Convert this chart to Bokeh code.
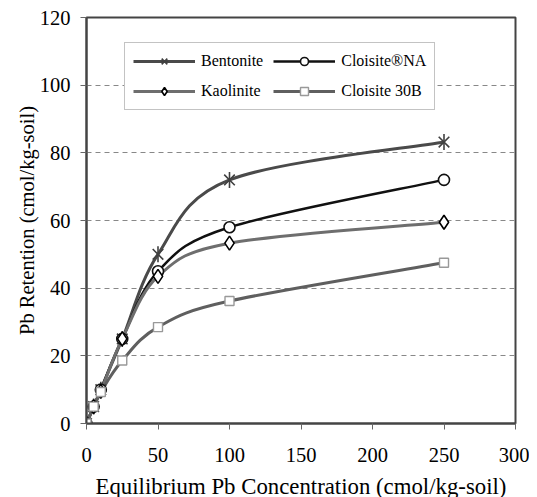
from bokeh.plotting import figure
from bokeh.models import (Range1d, FixedTicker, ColumnDataSource, Legend, LegendItem)
from bokeh.embed import file_html
from bokeh.resources import INLINE
import math

# ---- data ----
conc = [0, 5, 10, 25, 50, 100, 250]
bentonite = [0, 5, 10, 25, 50, 72, 83.2]
cloisite_na = [0, 5, 10, 25, 45, 58, 72]
kaolinite = [0, 5, 9.5, 25, 43.5, 53.3, 59.5]
cloisite_30b = [0, 5, 9.3, 18.6, 28.5, 36.2, 47.5]
x_ticks = [0, 50, 100, 150, 200, 250, 300]
y_ticks = [0, 20, 40, 60, 80, 100, 120]

FONT = "Liberation Serif"


def smooth_segments(xs, ys):
    """Bezier segments (Excel-style smoothed line) through the data points."""
    n = len(xs)
    d = dict(x0=[], y0=[], x1=[], y1=[], cx0=[], cy0=[], cx1=[], cy1=[])
    for i in range(n - 1):
        a = i - 1 if i > 0 else i
        b = i + 2 if i + 2 < n else i + 1
        d["x0"].append(xs[i]); d["y0"].append(ys[i])
        d["x1"].append(xs[i + 1]); d["y1"].append(ys[i + 1])
        d["cx0"].append(xs[i] + (xs[i + 1] - xs[a]) / 6)
        d["cy0"].append(ys[i] + (ys[i + 1] - ys[a]) / 6)
        d["cx1"].append(xs[i + 1] - (xs[b] - xs[i]) / 6)
        d["cy1"].append(ys[i + 1] - (ys[b] - ys[i]) / 6)
    return ColumnDataSource(d)


p = figure(frame_width=429, frame_height=406,
           x_range=Range1d(0, 300), y_range=Range1d(0, 120),
           output_backend="svg", toolbar_location=None,
           min_border_left=86, min_border_top=17, min_border_right=14,
           min_border_bottom=10)

p.background_fill_color = "white"
p.border_fill_color = "white"
p.outline_line_color = "#444444"
p.outline_line_width = 2

# axes
p.xaxis.ticker = FixedTicker(ticks=x_ticks)
p.yaxis.ticker = FixedTicker(ticks=y_ticks)
for ax in (p.xaxis[0], p.yaxis[0]):
    ax.axis_line_color = "#444444"
    ax.axis_line_width = 2
    ax.major_label_text_font = FONT
    ax.major_label_text_font_size = "20.5px"
    ax.major_label_text_color = "black"
    ax.axis_label_text_font = FONT
    ax.axis_label_text_font_style = "normal"
    ax.axis_label_text_color = "black"
    ax.minor_tick_line_color = None
    ax.major_tick_line_color = "#666666"
    ax.major_tick_line_width = 1
    ax.major_tick_out = 6
    ax.major_tick_in = 0

p.xaxis.axis_label = "Equilibrium Pb Concentration (cmol/kg-soil)"
p.yaxis.axis_label = "Pb Retention (cmol/kg-soil)"
p.xaxis.axis_label_text_font_size = "22.8px"
p.yaxis.axis_label_text_font_size = "20.5px"
p.xaxis.major_label_standoff = 18
p.yaxis.major_label_standoff = 10
p.xaxis.axis_label_standoff = 9
p.yaxis.axis_label_standoff = -1

# grid
p.xgrid.grid_line_color = None
p.ygrid.grid_line_color = "#888888"
p.ygrid.grid_line_dash = "5 4"
p.ygrid.grid_line_width = 1

# ---- series ----
def smooth(xs, ys, color, width):
    src = smooth_segments(xs, ys)
    return p.bezier(x0="x0", y0="y0", x1="x1", y1="y1", cx0="cx0", cy0="cy0",
                    cx1="cx1", cy1="cy1", source=src, line_color=color, line_width=width)


l1 = smooth(conc, bentonite, "#4a4a4a", 3)
l2 = smooth(conc, cloisite_na, "#111111", 2.5)
l3 = smooth(conc, kaolinite, "#6e6e6e", 3)
l4 = smooth(conc, cloisite_30b, "#5f5f5f", 3)

m1a = p.scatter(conc, bentonite, marker="x", size=15, line_color="#404040", line_width=1.6)
m1b = p.scatter(conc, bentonite, marker="dash", angle=math.pi / 2, size=16,
                line_color="#404040", line_width=1.6)
m2 = p.scatter(conc, cloisite_na, marker="circle", size=11, line_color="#111111",
               fill_color="white", line_width=1.6)
m3 = p.scatter(conc, kaolinite, marker="diamond", size=14, line_color="#000000",
               fill_color="white", line_width=1.6)
m4 = p.scatter(conc, cloisite_30b, marker="square", size=9, line_color="#999999",
               fill_color="white", line_width=1.4)

# column-major order: col 1 = Bentonite, Kaolinite; col 2 = Cloisite NA, Cloisite 30B
items = [
    LegendItem(label="Bentonite", renderers=[l1, m1a, m1b]),
    LegendItem(label="Kaolinite", renderers=[l3, m3]),
    LegendItem(label="Cloisite®NA", renderers=[l2, m2]),
    LegendItem(label="Cloisite 30B", renderers=[l4, m4]),
]
legend = Legend(items=items, location=(38, 313), ncols=2)
legend.label_text_font = FONT
legend.label_text_font_size = "16px"
legend.label_text_color = "black"
legend.glyph_width = 62
legend.glyph_height = 20
legend.label_height = 20
legend.label_standoff = 6
legend.spacing = 10
legend.padding = 8
legend.margin = 0
legend.border_line_color = "#888888"
legend.border_line_width = 1
legend.background_fill_color = "white"
legend.background_fill_alpha = 1
p.add_layout(legend, "center")

open("out.html", "w").write(file_html(p, INLINE))
